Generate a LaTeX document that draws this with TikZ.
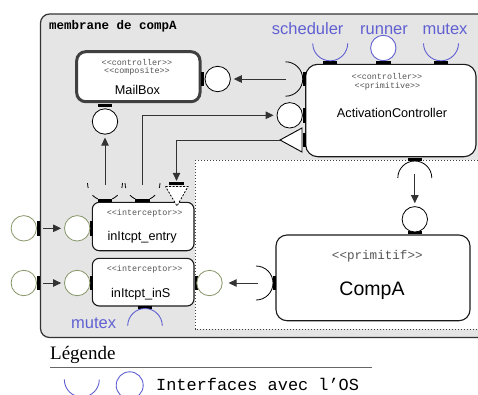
\documentclass[tikz,border=0pt]{standalone}
\usepackage{fontspec}
\setmainfont{Liberation Sans}
\newfontfamily\monofont{Liberation Mono}
\newfontfamily\seriffont{Liberation Serif}
\usetikzlibrary{arrows.meta}
\definecolor{ifblue}{RGB}{96,96,210}
\definecolor{portolive}{RGB}{135,150,105}
\definecolor{stereogray}{RGB}{85,85,85}
\newcommand\stlt{\mbox{<}\mbox{<}}
\newcommand\stgt{\mbox{>}\mbox{>}}
\tikzset{
 compbox/.style={rectangle, draw=black!90, line width=1.1pt, fill=white, inner sep=0pt, rounded corners=10pt},
 provided/.style={circle, draw=black, line width=0.8pt, fill=white, minimum size=25.4pt, inner sep=0pt},
 osport/.style={provided, draw=ifblue, line width=0.9pt},
 extport/.style={provided, draw=portolive},
 hbar/.style={rectangle, fill=black, inner sep=0pt, minimum width=14.5pt, minimum height=3pt},
 vbar/.style={rectangle, fill=black, inner sep=0pt, minimum width=3pt, minimum height=14.5pt},
 conn/.style={draw=black!80, line width=0.9pt, -{Triangle[length=8pt,width=7.5pt]}, shorten >=3pt},
 socketline/.style={draw=black, line width=0.8pt},
 ossocket/.style={draw=ifblue, line width=0.9pt},
 cupdash/.style={dash pattern=on 5pt off 8.5pt on 6.5pt off 14.8pt on 6.5pt off 8.5pt on 5pt},
 stereo/.style={font=\monofont\fontsize{8.4}{9}\selectfont, text=stereogray, inner sep=0pt},
 cname/.style={font=\fontsize{12.7}{14}\selectfont, inner sep=0pt, anchor=base},
 oslabel/.style={font=\fontsize{16.5}{18}\selectfont, text=ifblue, inner sep=0pt, anchor=base},
}
\begin{document}
\begin{tikzpicture}[x=1pt,y=-1pt]
\clip (0,0) rectangle (478,394);
% membrane
\draw[draw=black!80, line width=1.2pt, fill=gray!20, rounded corners=9pt] (40.5,14) rectangle (520,337.5);
\node[font=\monofont\bfseries\fontsize{12.5}{14}\selectfont, anchor=west, inner sep=0pt] (memlabel) at (49,26) {membrane de compA};
% dotted region
\draw[draw=black!75, line width=1pt, fill=white, dash pattern=on 1.2pt off 1.8pt] (195,160) rectangle (520,329);

% MailBox
\node[compbox, draw=black!75, line width=3pt, rounded corners=9pt, minimum width=123.3pt, minimum height=50pt] (mailbox) at (138.35,76.7) {};
\node[stereo] (mbst1) at (137,62.7) {\stlt controller\stgt};
\node[stereo] (mbst2) at (137,71.7) {\stlt composite\stgt};
\node[cname] (mbname) at (137.5,94) {MailBox};

% ActivationController
\node[compbox, rounded corners=12pt, minimum width=170.3pt, minimum height=92.4pt] (actctl) at (390.85,110.5) {};
\node[stereo] (acst1) at (387,76.7) {\stlt controller\stgt};
\node[stereo] (acst2) at (387.5,86.7) {\stlt primitive\stgt};
\node[cname] (acname) at (392,117.3) {ActivationController};

% inItcpt_entry
\node[compbox, rounded corners=7pt, minimum width=101.7pt, minimum height=48.4pt] (ientry) at (143.15,226.5) {};
\node[stereo] (iest) at (144.7,213.3) {\stlt interceptor\stgt};
\node[cname] (iename) at (142.2,240.8) {inItcpt\_entry};

% inItcpt_inS
\node[compbox, rounded corners=7pt, minimum width=101.7pt, minimum height=47.7pt] (ins) at (143.15,282.15) {};
\node[stereo] (isst) at (144.7,269.3) {\stlt interceptor\stgt};
\node[cname] (isname) at (140.8,297.4) {inItcpt\_inS};

% CompA
\node[compbox, rounded corners=11pt, minimum width=194pt, minimum height=85.7pt] (compa) at (373,277.85) {};
\node[stereo, font=\monofont\fontsize{12.6}{14}\selectfont] (cast) at (377.3,256.7) {\stlt primitif\stgt};
\node[cname, font=\fontsize{19.5}{22}\selectfont] (caname) at (372,295.8) {CompA};

% ports: bars
\node[vbar] (mbRbar) at (202.5,79) {};
\node[hbar] (mbBbar) at (105,105.6) {};
\node[vbar] (acLbar1) at (304,79) {};
\node[vbar] (acLbar2) at (304,115.3) {};
\node[vbar] (acLbar3) at (304,140) {};
\node[hbar] (acTbar1) at (330.2,62) {};
\node[hbar] (acTbar2) at (383.3,62) {};
\node[hbar] (acTbar3) at (441,62) {};
\node[hbar] (acBbar) at (414.8,159) {};
\node[hbar] (cTbar) at (414.8,232.5) {};
\node[vbar] (cLbar) at (274.8,283) {};
\node[hbar] (ieTbar1) at (105,200.3) {};
\node[hbar] (ieTbar2) at (142.5,200.3) {};
\node[vbar] (ieLbar) at (91.5,228.3) {};
\node[vbar] (ieObar) at (38.3,228.3) {};
\node[vbar] (isLbar) at (91.5,283) {};
\node[vbar] (isObar) at (38.3,283) {};
\node[vbar] (isRbar) at (196,283) {};
\node[hbar] (isBbar) at (145,307.3) {};
\node[hbar, minimum height=2.5pt, minimum width=15pt] (dtbar) at (176.5,183.3) {};

% provided interfaces (circles)
\node[provided] (mbR) at (217.7,79) {};
\node[provided] (mbB) at (105,121.5) {};
\node[provided] (acC) at (289.7,115.3) {};
\node[provided] (cTop) at (414.8,219.3) {};
\node[osport] (runner) at (383.3,48) {};
\node[extport] (ieIn) at (77.2,228.3) {};
\node[extport] (ieOut) at (23.8,228.3) {};
\node[extport] (isIn) at (77.2,283) {};
\node[extport] (isOut) at (23.8,283) {};
\node[extport] (isR) at (209.5,283) {};

% required interfaces (sockets)
\draw[socketline] (285.5,61.8) arc[start angle=-90, end angle=90, radius=17.2];
\coordinate (sockMB) at (285.5,79);
\draw[socketline] (397.8,178) arc[start angle=180, end angle=360, radius=17];
\coordinate (sockAB) at (414.8,174);
\draw[socketline] (256,266) arc[start angle=-90, end angle=90, radius=17];
\coordinate (sockC) at (258,283);
\draw[socketline, cupdash] (122.5,183) arc[start angle=0, end angle=180, radius=17.5];
\coordinate (cup1) at (105,185);
\draw[socketline, cupdash] (160,183) arc[start angle=0, end angle=180, radius=17.5];
\coordinate (cup2) at (142.5,185);

% triangles
\draw[fill=white, line width=0.9pt] (280,140) -- (302,128) -- (302,152) -- cycle;
\coordinate (trTip) at (280,140);
\draw[fill=white, line width=0.8pt, dash pattern=on 2pt off 1.5pt] (165.5,186.5) -- (188,186.5) -- (177,206) -- cycle;

% OS interfaces
\draw[ossocket] (347.7,43.3) arc[start angle=0, end angle=180, radius=17.5];
\draw[ossocket] (458.5,43.3) arc[start angle=0, end angle=180, radius=17.5];
\draw[ossocket] (127.7,325.8) arc[start angle=180, end angle=360, radius=17.3];
\node[oslabel] (lsched) at (307.7,34.3) {scheduler};
\node[oslabel] (lrunner) at (384,34.3) {runner};
\node[oslabel] (lmutex) at (445,34.3) {mutex};
\node[oslabel] (lmutex2) at (93.7,328.3) {mutex};

% connectors
\draw[conn] (sockMB) -- (mbR);
\draw[conn] (cup1) -- (mbB);
\draw[conn] (cup2) |- (acC);
\draw[conn, shorten >=1pt] (trTip) -| (dtbar);
\draw[conn] (sockAB) -- (cTop);
\draw[conn, shorten >=6pt] (sockC) -- (isR);
\draw[conn, shorten <=3pt] (ieObar) -- (ieIn);
\draw[conn, shorten <=3pt] (isObar) -- (isIn);

% legend
\node[font=\seriffont\fontsize{19}{22}\selectfont, anchor=base west, inner sep=0pt] (legtitle) at (50,359.3) {Légende};
\draw[black!60, line width=1.4pt] (50,367.7) -- (371.7,367.7);
\draw[ossocket] (99.3,379.5) arc[start angle=0, end angle=180, radius=17.5];
\node[osport, minimum size=27pt] (legcirc) at (129.7,385.3) {};
\node[font=\monofont\fontsize{16.9}{19}\selectfont, anchor=base west, inner sep=0pt] (legtext) at (156,390.5) {Interfaces avec l’OS};
\end{tikzpicture}
\end{document}
